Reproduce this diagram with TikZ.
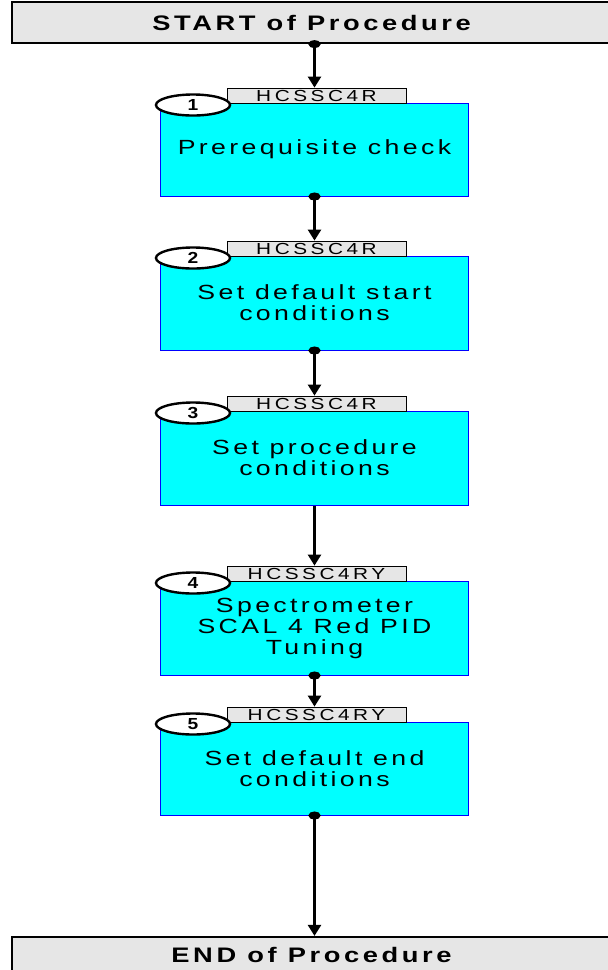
\documentclass[tikz,border=0pt]{standalone}
\usepackage{fontspec}
\setmainfont{Liberation Sans}
\usetikzlibrary{arrows.meta,shapes.geometric}
\newfontfamily\stepfont[FakeStretch=1.3,LetterSpace=16.5]{Liberation Sans}
\newfontfamily\termfont[FakeStretch=1.3,LetterSpace=17]{Liberation Sans}
\newfontfamily\tagfont[FakeStretch=1.3,LetterSpace=22]{Liberation Sans}
\newfontfamily\numfont[FakeStretch=1.2]{Liberation Sans}
\definecolor{boxgray}{HTML}{E6E6E6}
\definecolor{stepcyan}{HTML}{00FFFF}
\definecolor{stepblue}{HTML}{0000FF}
\begin{document}
\begin{tikzpicture}[x=1pt,y=-1pt,
  term/.style={draw=black,line width=2.2pt,fill=boxgray,minimum width=599pt,inner sep=0pt,font=\termfont\bfseries\fontsize{21}{23}\selectfont},
  stepbox/.style={draw=stepblue,line width=1pt,fill=stepcyan,minimum width=308pt,inner sep=0pt,align=center,font=\stepfont\fontsize{20.5}{21}\selectfont},
  tagbox/.style={draw=black,line width=0.8pt,fill=boxgray,minimum width=179pt,minimum height=15pt,inner sep=0pt,font=\tagfont\fontsize{16}{16}\selectfont},
  numoval/.style={ellipse,draw=black,line width=2.4pt,fill=white,minimum width=74pt,minimum height=21pt,inner sep=0pt,font=\numfont\bfseries\fontsize{16}{16}\selectfont},
  flow/.style={line width=2.4pt,-{Triangle[length=11pt,width=13pt]}},
  dotflow/.style={line width=2.4pt,{Ellipse[length=8pt,width=12pt]}-{Triangle[length=11pt,width=13pt]},shorten <=-4pt}
]
\useasboundingbox (0,0) rectangle (608,970);

\node[term,minimum height=41pt] (start) at (311.5,22.5) {START of Procedure};
\node[term,minimum height=36pt] (end) at (311.5,955) {END of Procedure};

% step 1
\node[stepbox,minimum height=93pt] (s1) at (314.5,149.5) {Prerequisite check};
\node[tagbox] (l1) at (316.5,95.5) {HCSSC4R};
\node[numoval] (n1) at (193,105) {1};
% step 2
\node[stepbox,minimum height=94pt] (s2) at (314.5,303) {Set default start\\conditions};
\node[tagbox] (l2) at (316.5,248.5) {HCSSC4R};
\node[numoval] (n2) at (193,258) {2};
% step 3
\node[stepbox,minimum height=94pt] (s3) at (314.5,458) {Set procedure\\conditions};
\node[tagbox] (l3) at (316.5,403.5) {HCSSC4R};
\node[numoval] (n3) at (193,413) {3};
% step 4
\node[stepbox,minimum height=94pt] (s4) at (314.5,628) {Spectrometer\\SCAL 4 Red PID\\Tuning};
\node[tagbox] (l4) at (316.5,573.5) {HCSSC4RY};
\node[numoval] (n4) at (193,583) {4};
% step 5
\node[stepbox,minimum height=93pt] (s5) at (314.5,768.5) {Set default end\\conditions};
\node[tagbox] (l5) at (316.5,714.5) {HCSSC4RY};
\node[numoval] (n5) at (193,724) {5};

% connectors
\draw[dotflow] (start.south -| s1.north) -- (l1.north -| s1.north);
\draw[dotflow] (s1.south) -- (l2.north -| s1.south);
\draw[dotflow] (s2.south) -- (l3.north -| s2.south);
\draw[flow] (s3.south) -- (l4.north -| s3.south);
\draw[dotflow] (s4.south) -- (l5.north -| s4.south);
\draw[dotflow] (s5.south) -- (end.north -| s5.south);
\end{tikzpicture}
\end{document}
